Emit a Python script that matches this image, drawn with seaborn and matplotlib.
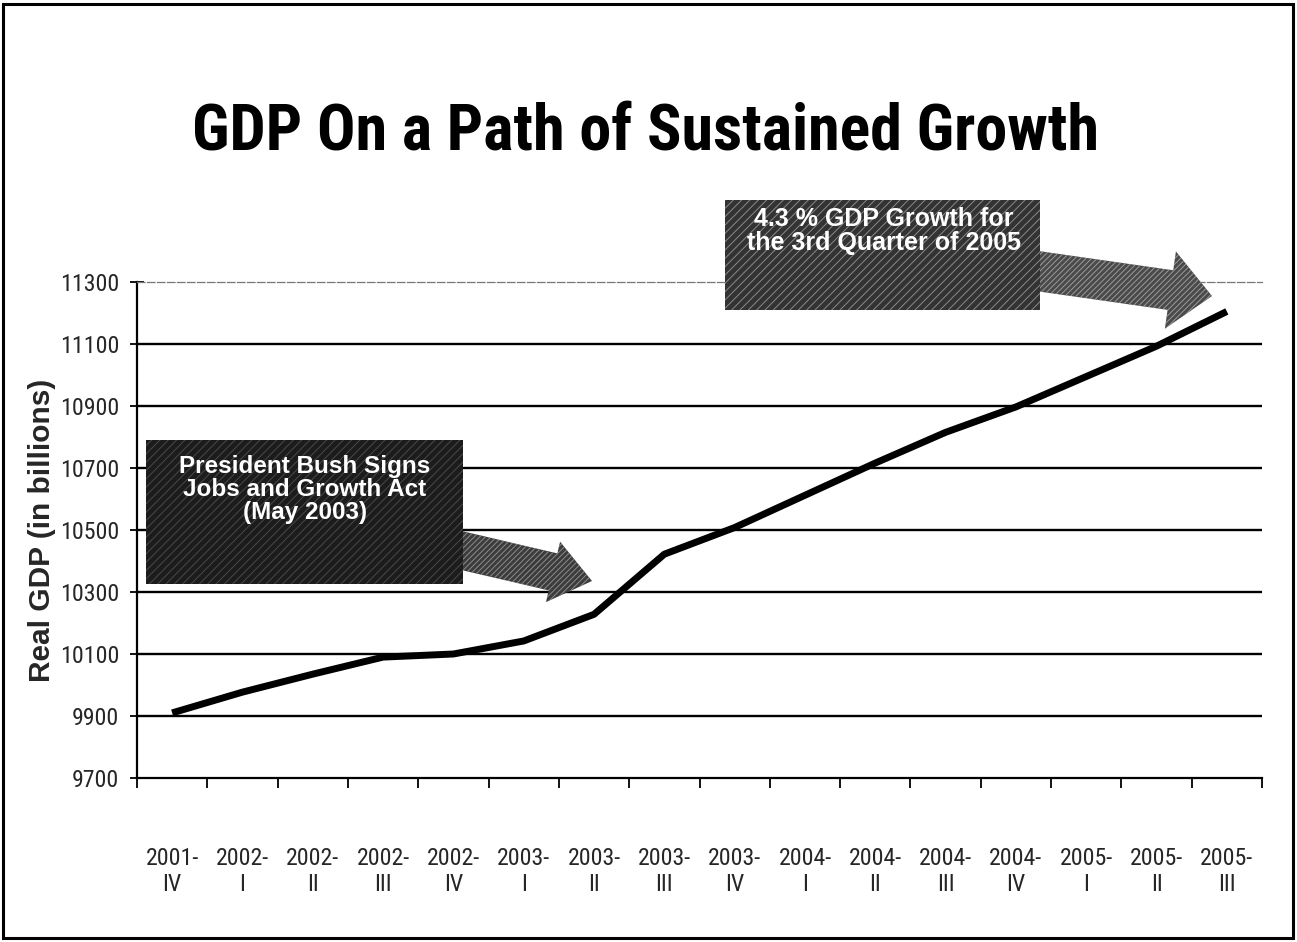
import numpy as np
import pandas as pd
import matplotlib
matplotlib.use("Agg")
import matplotlib.pyplot as plt
import matplotlib.patches as mpatches
import matplotlib.transforms as mtransforms
from matplotlib import font_manager as fm
import seaborn as sns

# Real GDP by quarter (billions of dollars)
years = ["2001", "2002", "2002", "2002", "2002", "2003", "2003", "2003",
         "2003", "2004", "2004", "2004", "2004", "2005", "2005", "2005"]
quarters = ["IV", "I", "II", "III", "IV", "I", "II", "III",
            "IV", "I", "II", "III", "IV", "I", "II", "III"]
gdp = [9910, 9977, 10035, 10090, 10100, 10142, 10228, 10422,
       10508, 10612, 10716, 10815, 10897, 10995, 11093, 11205]
y_ticks = [9700, 9900, 10100, 10300, 10500, 10700, 10900, 11100, 11300]

title = "GDP On a Path of Sustained Growth"
y_title = "Real GDP (in billions)"
note_act = "President Bush Signs\nJobs and Growth Act\n(May 2003)"
note_q3 = "4.3 % GDP Growth for\nthe 3rd Quarter of 2005"

sns.set_theme(style="white")
plt.rcParams["font.family"] = ["Liberation Sans", "DejaVu Sans"]
plt.rcParams["hatch.linewidth"] = 0.7

_WEIGHTS = {"ultralight": 200, "thin": 100, "light": 300, "normal": 400,
            "regular": 400, "book": 400, "medium": 500, "semibold": 600,
            "demibold": 600, "bold": 700, "extra bold": 800, "heavy": 800,
            "black": 900}


def _weight(w):
    if isinstance(w, (int, float)):
        return int(w)
    return _WEIGHTS.get(str(w).lower(), 400)


def narrow_font(bold):
    """Pick an Arial-like condensed face, falling back to Liberation Sans."""
    target = 700 if bold else 400
    order = ["Roboto", "Liberation", "Arial", "Noto Sans", "Open Sans", "Lato",
             "Inter", "DejaVu"]
    found = []
    for f in fm.fontManager.ttflist:
        condensed = ("Narrow" in f.name or "Condensed" in f.name
                     or "condensed" in str(f.stretch))
        if not condensed or f.style != "normal":
            continue
        if abs(_weight(f.weight) - target) > 100:
            continue
        rank = next((i for i, k in enumerate(order) if k in f.name), len(order))
        found.append((rank, abs(_weight(f.weight) - target), f.name, f.fname))
    if found:
        found.sort()
        return fm.FontProperties(fname=found[0][3])
    return fm.FontProperties(family="Liberation Sans",
                             weight="bold" if bold else "normal")


title_fp = narrow_font(True)
tick_fp = narrow_font(False)

W, H = 1297, 942
fig = plt.figure(figsize=(W / 100, H / 100), dpi=100)
fig.patch.set_facecolor("white")
renderer = fig.canvas.get_renderer()


def size_for_width(fp, text, width_px, guess=20.0):
    """Font size at which `text` spans `width_px` pixels."""
    t = fig.text(0, 0, text, fontproperties=fp, fontsize=guess)
    w = t.get_window_extent(renderer).width
    t.remove()
    return guess * width_px / w


# pixel coordinates measured from the top-left corner
PX = mtransforms.Affine2D().scale(1, -1).translate(0, H).scale(1 / 100) + fig.dpi_scale_trans

left, right, top, bottom = 137, 1262, 282, 778
ax = fig.add_axes([left / W, 1 - bottom / H, (right - left) / W, (bottom - top) / H])
ax.set_facecolor("white")

df = pd.DataFrame({"pos": np.arange(len(gdp)), "gdp": gdp})
sns.lineplot(data=df, x="pos", y="gdp", ax=ax, color="black", linewidth=5,
             solid_joinstyle="round", solid_capstyle="butt", zorder=4)

ax.set_xlim(-0.5, len(gdp) - 0.5)
ax.set_ylim(y_ticks[0], y_ticks[-1])
ax.set_yticks(y_ticks)
ax.set_yticklabels([str(v) for v in y_ticks])

# category boundaries carry tick marks, category centres carry labels
ax.set_xticks(np.arange(len(gdp) + 1) - 0.5)
ax.set_xticklabels([])
ax.set_xticks(np.arange(len(gdp)), minor=True)
ax.set_xticklabels([f"{y}-\n{q}" for y, q in zip(years, quarters)], minor=True,
                   linespacing=1.15)
ax.tick_params(axis="x", which="major", direction="out", length=7, width=1.3,
               color="black", bottom=True)
ax.tick_params(axis="x", which="minor", length=0, pad=50)
ax.tick_params(axis="y", which="major", direction="inout", length=10, width=1.3,
               color="black", left=True, pad=8)

tick_size = min(size_for_width(tick_fp, "11300", 59), 19)
for lab in ax.get_xticklabels(minor=True) + ax.get_yticklabels():
    lab.set_fontproperties(tick_fp)
    lab.set_fontsize(tick_size)

ax.set_xlabel("")
ax.set_ylabel(y_title, fontsize=21.5, fontweight="bold")
ax.yaxis.set_label_coords(-0.072, 0.5)

ax.grid(False)
for v in y_ticks[1:-1]:
    ax.axhline(v, color="black", linewidth=1.7, zorder=1)

for side in ["left", "bottom"]:
    ax.spines[side].set_color("black")
    ax.spines[side].set_linewidth(1.6)
ax.spines["right"].set_visible(False)
ax.spines["top"].set_color("#777777")
ax.spines["top"].set_linewidth(0.9)
ax.spines["top"].set_linestyle((0, (6, 2)))


# callout boxes and arrows
def callout(x0, y0, x1, y1, face, hatch_col, text, tx, ty, size):
    box = mpatches.Rectangle((x0, y0), x1 - x0, y1 - y0, transform=PX,
                             facecolor=face, edgecolor=hatch_col, hatch="////",
                             linewidth=0, zorder=5)
    fig.add_artist(box)
    fig.text(tx, ty, text, transform=PX, ha="center", va="center", color="white",
             fontsize=size, fontweight="bold", linespacing=1.0, zorder=7)


def arrow(xs, ys, xe, ye, body, head_w, head_l, face, hatch_col):
    a = mpatches.FancyArrow(xs, ys, xe - xs, ye - ys, width=body, head_width=head_w,
                            head_length=head_l, length_includes_head=True,
                            transform=PX, facecolor=face, edgecolor=hatch_col,
                            hatch="//////", linewidth=0, zorder=5)
    fig.add_artist(a)


arrow(455, 549, 592, 581, 38, 62, 40, "#3c3c3c", "#8c8c8c")
callout(146, 440, 463, 584, "#1c1c1c", "#4a4a4a", note_act, 305, 489, 17.5)

arrow(1030, 270, 1212, 296, 40, 78, 42, "#4a4a4a", "#9a9a9a")
callout(725, 200, 1040, 310, "#333333", "#8a8a8a", note_q3, 884, 231, 18)

title_size = min(size_for_width(title_fp, title, 905, 40), 48)
fig.text(645.5, 150, title, transform=PX, ha="center", va="baseline",
         fontproperties=title_fp, fontsize=title_size, color="black")

# outer frame
frame = mpatches.Rectangle((3, 4), W - 7, H - 8, transform=PX, fill=False,
                           edgecolor="black", linewidth=2.2)
fig.add_artist(frame)

fig.savefig("out.png", dpi=100, facecolor="white")
